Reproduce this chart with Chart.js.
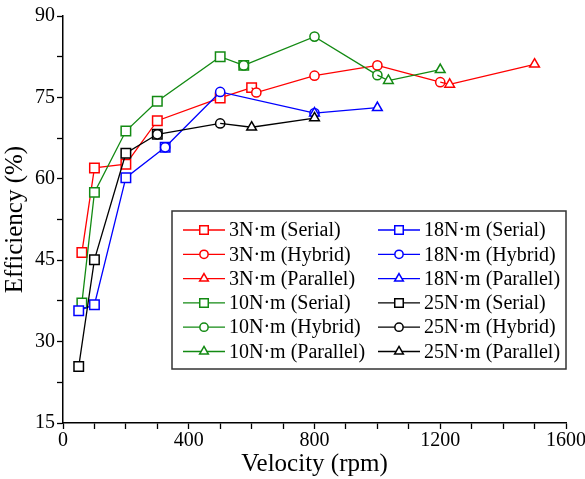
<!DOCTYPE html>
<html>
<head>
<meta charset="utf-8">
<script src="https://cdn.jsdelivr.net/npm/chart.js@4.4.1/dist/chart.umd.min.js"></script>
<style>
html, body { margin: 0; padding: 0; background: #fff; }
#wrap { width: 585px; height: 479px; }
</style>
</head>
<body>
<div id="wrap"><canvas id="myChart"></canvas></div>
<script>
// tick labels
const xTickLabels = [0, 400, 800, 1200, 1600];
const yTickLabels = [15, 30, 45, 60, 75, 90];

// 3 N·m
const rpm3Serial = [60, 100, 200, 300, 500, 600];
const eff3Serial = [46.4, 62.0, 62.7, 70.7, 74.9, 76.8];
const rpm3Hybrid = [615, 800, 1000, 1200];
const eff3Hybrid = [75.9, 79.0, 80.9, 77.8];
const rpm3Parallel = [1230, 1500];
const eff3Parallel = [77.4, 81.1];

// 10 N·m
const rpm10Serial = [60, 100, 200, 300, 500, 575];
const eff10Serial = [37.1, 57.5, 68.8, 74.3, 82.5, 80.9];
const rpm10Hybrid = [575, 800, 1000];
const eff10Hybrid = [80.9, 86.2, 79.1];
const rpm10Parallel = [1035, 1200];
const eff10Parallel = [78.1, 80.1];

// 18 N·m
const rpm18Serial = [50, 100, 200, 325];
const eff18Serial = [35.7, 36.8, 60.2, 65.8];
const rpm18Hybrid = [325, 500, 800];
const eff18Hybrid = [65.8, 76.0, 72.1];
const rpm18Parallel = [800, 1000];
const eff18Parallel = [72.1, 73.1];

// 25 N·m
const rpm25Serial = [50, 100, 200, 300];
const eff25Serial = [25.4, 45.1, 64.7, 68.2];
const rpm25Hybrid = [300, 500];
const eff25Hybrid = [68.2, 70.2];
const rpm25Parallel = [600, 800];
const eff25Parallel = [69.5, 71.2];

const red = '#ff0000', green = '#138a13', blue = '#0000ff', black = '#000000';

// legend order: column 1 then column 2
const series = [
  { label: '3N·m (Serial)', x: rpm3Serial, y: eff3Serial, color: red, style: 'rect', prev: null },
  { label: '3N·m (Hybrid)', x: rpm3Hybrid, y: eff3Hybrid, color: red, style: 'circle', prev: 0 },
  { label: '3N·m (Parallel)', x: rpm3Parallel, y: eff3Parallel, color: red, style: 'triangle', prev: 1 },
  { label: '10N·m (Serial)', x: rpm10Serial, y: eff10Serial, color: green, style: 'rect', prev: null },
  { label: '10N·m (Hybrid)', x: rpm10Hybrid, y: eff10Hybrid, color: green, style: 'circle', prev: 3 },
  { label: '10N·m (Parallel)', x: rpm10Parallel, y: eff10Parallel, color: green, style: 'triangle', prev: 4 },
  { label: '18N·m (Serial)', x: rpm18Serial, y: eff18Serial, color: blue, style: 'rect', prev: null },
  { label: '18N·m (Hybrid)', x: rpm18Hybrid, y: eff18Hybrid, color: blue, style: 'circle', prev: 6 },
  { label: '18N·m (Parallel)', x: rpm18Parallel, y: eff18Parallel, color: blue, style: 'triangle', prev: 7 },
  { label: '25N·m (Serial)', x: rpm25Serial, y: eff25Serial, color: black, style: 'rect', prev: null },
  { label: '25N·m (Hybrid)', x: rpm25Hybrid, y: eff25Hybrid, color: black, style: 'circle', prev: 9 },
  { label: '25N·m (Parallel)', x: rpm25Parallel, y: eff25Parallel, color: black, style: 'triangle', prev: 10 }
];

const markerRadius = { rect: 6.7, circle: 4.6, triangle: 5.6 };

// each mode's line starts from the last point of the previous mode
const datasets = series.map(function(s, i) {
  const pts = s.x.map(function(v, k) { return { x: v, y: s.y[k] }; });
  const radii = pts.map(function() { return markerRadius[s.style]; });
  if (s.prev !== null) {
    const p = series[s.prev];
    pts.unshift({ x: p.x[p.x.length - 1], y: p.y[p.y.length - 1] });
    radii.unshift(0);
  }
  return {
    label: s.label,
    data: pts,
    borderColor: s.color,
    borderWidth: 1.3,
    pointStyle: s.style,
    pointRadius: radii,
    pointBorderColor: s.color,
    pointBackgroundColor: '#ffffff',
    pointBorderWidth: 1.5,
    tension: 0,
    order: -i
  };
});

function drawMarker(ctx, style, x, y, r) {
  ctx.beginPath();
  if (style === 'rect') {
    const h = r * Math.SQRT1_2;
    ctx.rect(x - h, y - h, 2 * h, 2 * h);
  } else if (style === 'circle') {
    ctx.arc(x, y, r, 0, Math.PI * 2);
  } else {
    for (let k = 0; k < 3; k++) {
      const a = k * Math.PI * 2 / 3;
      const px = x + Math.sin(a) * r, py = y - Math.cos(a) * r;
      if (k === 0) ctx.moveTo(px, py); else ctx.lineTo(px, py);
    }
    ctx.closePath();
  }
  ctx.fill();
  ctx.stroke();
}

const legendBox = {
  id: 'legendBox',
  afterDraw(chart, args, opts) {
    const ctx = chart.ctx;
    ctx.save();
    ctx.strokeStyle = '#333';
    ctx.lineWidth = 1.5;
    ctx.strokeRect(opts.left, opts.top, opts.width, opts.height);
    ctx.font = opts.font;
    ctx.textBaseline = 'middle';
    ctx.textAlign = 'left';
    series.forEach(function(s, i) {
      const col = Math.floor(i / 6), row = i % 6;
      const x0 = opts.left + opts.lineStart + col * opts.colWidth;
      const y = opts.top + opts.rowStart + row * opts.rowHeight;
      ctx.strokeStyle = s.color;
      ctx.lineWidth = 1.3;
      ctx.beginPath();
      ctx.moveTo(x0, y);
      ctx.lineTo(x0 + opts.lineLen, y);
      ctx.stroke();
      ctx.fillStyle = '#fff';
      ctx.lineWidth = 1.5;
      drawMarker(ctx, s.style, x0 + opts.lineLen / 2, y, markerRadius[s.style] * 0.9);
      ctx.fillStyle = '#000';
      ctx.fillText(s.label, x0 + opts.textOffset, y + 1);
    });
    ctx.restore();
  }
};

const serif = 'Liberation Serif';

var ctx = document.getElementById('myChart').getContext('2d');
var myChart = new Chart(ctx, {
  type: 'line',
  data: { datasets: datasets },
  options: {
    responsive: true,
    maintainAspectRatio: false,
    animation: false,
    devicePixelRatio: 1,
    layout: { padding: { top: 16, right: 19, left: 0, bottom: 0 } },
    plugins: {
      legend: { display: false },
      tooltip: { enabled: false },
      legendBox: {
        left: 172, top: 211, width: 394, height: 158,
        lineStart: 11, lineLen: 42, colWidth: 195, textOffset: 46,
        rowStart: 19, rowHeight: 24.3,
        font: '20px "Liberation Serif"'
      }
    },
    scales: {
      x: {
        type: 'linear',
        min: 0,
        max: 1600,
        ticks: {
          stepSize: 100,
          autoSkip: false,
          maxRotation: 0,
          padding: 0,
          color: '#000',
          font: { family: serif, size: 20 },
          callback: function(v) { return xTickLabels.includes(v) ? String(v) : ''; }
        },
        grid: { drawOnChartArea: false, tickLength: 6, tickColor: '#000', tickWidth: 1.3 },
        border: { color: '#000', width: 1.5 },
        title: { display: true, text: 'Velocity (rpm)', color: '#000', font: { family: serif, size: 25 }, padding: { top: 0, bottom: 0 } },
        afterFit: function(scale) { scale.height = 56; scale.paddingLeft = 0; scale.paddingRight = 0; }
      },
      y: {
        type: 'linear',
        min: 15,
        max: 90,
        ticks: {
          stepSize: 7.5,
          autoSkip: false,
          padding: 2,
          color: '#000',
          font: { family: serif, size: 20 },
          callback: function(v) { return yTickLabels.includes(v) ? String(v) : ''; }
        },
        grid: { drawOnChartArea: false, tickLength: 6, tickColor: '#000', tickWidth: 1.3 },
        border: { color: '#000', width: 1.5 },
        title: { display: true, text: 'Efficiency (%)', color: '#000', font: { family: serif, size: 25 }, padding: { top: 0, bottom: 4 } },
        afterFit: function(scale) { scale.width = 63; scale.paddingTop = 0; scale.paddingBottom = 0; }
      }
    }
  },
  plugins: [legendBox]
});
</script>
</body>
</html>
